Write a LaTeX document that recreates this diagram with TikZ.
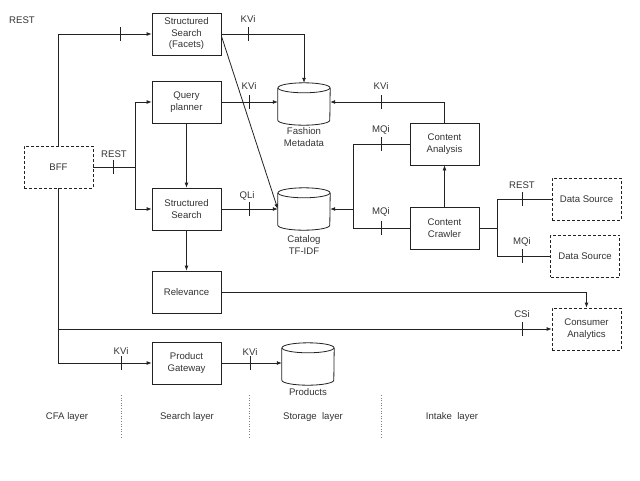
\documentclass[tikz,border=0pt]{standalone}
\usepackage{fontspec}
\setmainfont{Liberation Sans}
\usetikzlibrary{arrows.meta,calc}
\definecolor{ink}{HTML}{222222}
\definecolor{txt}{HTML}{333333}
\newcommand{\tickmk}[1]{\draw[ink,line width=0.8pt] #1 +(0,-7) -- +(0,7);}
\newcommand{\mycyl}[1]{%
  \draw[ink,line width=0.8pt] ([yshift=-5pt]#1.north west) -- ([yshift=5pt]#1.south west)
    arc[start angle=180,end angle=360,x radius=26pt,y radius=5pt]
    -- ([yshift=-5pt]#1.north east);
  \draw[ink,line width=0.8pt] ([yshift=-5pt]#1.north) ellipse[x radius=26pt,y radius=5pt];}
\begin{document}
\begin{tikzpicture}[x=1pt,y=-1pt,
  every node/.style={font=\fontsize{9.6}{11.5}\selectfont, text=txt, align=center},
  box/.style={draw=ink, line width=0.8pt, minimum width=69pt, minimum height=42pt, inner sep=0pt},
  dbox/.style={box, dash pattern=on 3pt off 2pt},
  cylbox/.style={minimum width=52pt, minimum height=42pt, inner sep=0pt},
  conn/.style={draw=ink, line width=0.8pt},
  arr/.style={conn, -{Latex[length=5pt,width=4pt]}},
  lbl/.style={inner sep=0pt},
  sep/.style={draw=gray, line width=0.6pt, dotted}]
\useasboundingbox (0,0) rectangle (640,480);
% boxes
\node[box] (facets) at (186.5,34) {Structured\\Search\\(Facets)};
\node[box] (qp) at (186.5,102) {Query\\planner};
\node[box] (ss) at (186.5,209) {Structured\\Search};
\node[box] (rel) at (186.5,292) {Relevance};
\node[box] (pg) at (186.5,363) {Product\\Gateway};
\node[dbox] (bff) at (58.5,167) {BFF};
\node[box] (ca) at (444.5,144) {Content\\Analysis};
\node[box] (cc) at (444.5,228) {Content\\Crawler};
\node[dbox] (ds1) at (586.5,199) {Data Source};
\node[dbox] (ds2) at (585,256) {Data Source};
\node[dbox] (cons) at (586.5,329) {Consumer\\Analytics};
% cylinders
\node[cylbox] (fm) at (304,104) {};
\node[cylbox] (cat) at (304,209) {};
\node[cylbox] (prod) at (308,364) {};
\mycyl{fm}\mycyl{cat}\mycyl{prod}
\node[lbl] (fml) at (304,137) {Fashion\\Metadata};
\node[lbl] (catl) at (304,245) {Catalog\\TF-IDF};
\node[lbl] (prodl) at (308,392) {Products};
% connectors
\draw[arr] (bff.north) |- (facets.west);
\draw[arr] (facets.east) -| (fm.north);
\draw[arr] ([yshift=-2pt]facets.east) -- (cat.west);
\coordinate (j1) at (135,167);
\draw[conn] (bff.east) -- (j1);
\draw[arr] (j1) |- (qp.west);
\draw[arr] (j1) |- (ss.west);
\draw[arr] (qp.east) -- (qp.east -| fm.west);
\draw[arr] (qp.south) -- (ss.north);
\draw[arr] (ss.east) -- (cat.west);
\draw[arr] (ss.south) -- (rel.north);
\draw[arr] (rel.east) -| (cons.north);
\draw[arr] (bff.south) |- (pg.west);
\draw[arr] (bff.south |- cons.west) -- (cons.west);
\draw[arr] (pg.east) -- (pg.east -| prod.west);
\draw[arr] (ca.north) |- (qp.east -| fm.east);
\coordinate (j2) at (353,209);
\draw[conn] (ca.west) -| (j2);
\draw[conn] (cc.west) -| (j2);
\draw[arr] (j2) -- (cat.east);
\draw[arr] (cc.north) -- (ca.south);
\coordinate (j3) at (497,228);
\draw[conn] (cc.east) -- (j3);
\draw[conn] (j3) |- (ds1.west);
\draw[conn] (j3) |- (ds2.west);
% ticks
\tickmk{(120,34)}\tickmk{(248,34)}\tickmk{(113,167)}
\tickmk{(249,102)}\tickmk{(249,209)}\tickmk{(381,102)}
\tickmk{(381,144)}\tickmk{(381,228)}\tickmk{(522,199)}
\tickmk{(522,256)}\tickmk{(522,329)}\tickmk{(121,363)}
\tickmk{(250,363)}
% connector labels
\node[lbl] (l1) at (22,20) {REST};
\node[lbl] (l2) at (248,19) {KVi};
\node[lbl] (l3) at (249,86) {KVi};
\node[lbl] (l4) at (114,154) {REST};
\node[lbl] (l5) at (247,196) {QLi};
\node[lbl] (l6) at (381,86) {KVi};
\node[lbl] (l7) at (381,130) {MQi};
\node[lbl] (l8) at (381,212) {MQi};
\node[lbl] (l9) at (522,185) {REST};
\node[lbl] (l10) at (522,242) {MQi};
\node[lbl] (l11) at (522,314) {CSi};
\node[lbl] (l12) at (121,351) {KVi};
\node[lbl] (l13) at (250,352) {KVi};
% layers
\draw[sep] (121,395) -- (121,438);
\draw[sep] (249,395) -- (249,438);
\draw[sep] (381,395) -- (381,438);
\node[lbl] (cfa) at (67,417) {CFA layer};
\node[lbl] (srch) at (187,417) {Search layer};
\node[lbl] (stor) at (313,417) {Storage\ \ layer};
\node[lbl] (intk) at (452,417) {Intake\ \ layer};
\end{tikzpicture}
\end{document}
